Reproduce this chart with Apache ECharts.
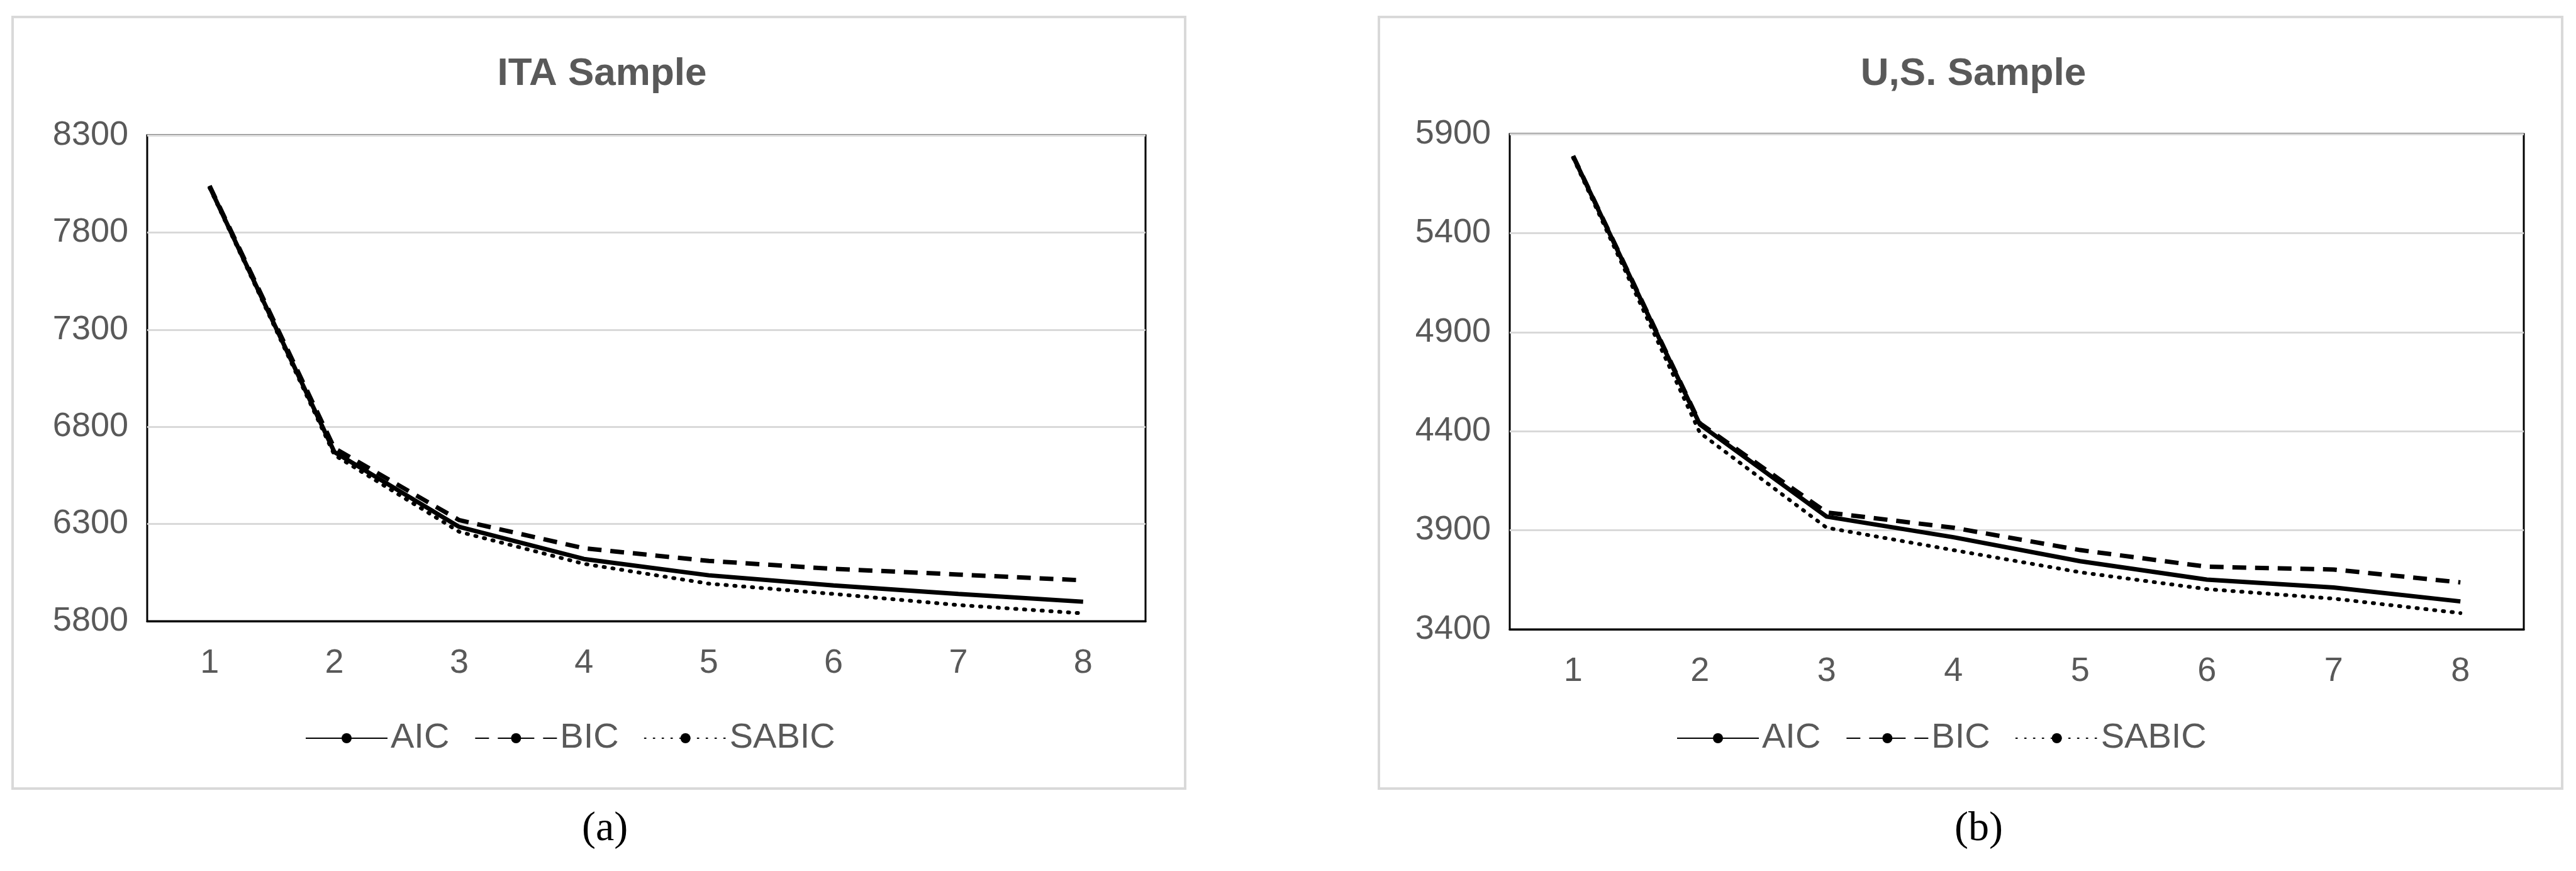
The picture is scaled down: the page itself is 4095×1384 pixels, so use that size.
<!DOCTYPE html>
<html>
<head>
<meta charset="utf-8">
<script src="https://cdn.jsdelivr.net/npm/echarts@6/dist/echarts.min.js"></script>
<style>html,body{margin:0;padding:0;background:#fff}#chart{width:4095px;height:1384px}</style>
</head>
<body>
<div id="chart"></div>
<script>
var categories = ['1', '2', '3', '4', '5', '6', '7', '8'];
var itaAIC = [8035, 6670, 6285, 6120, 6036, 5984, 5940, 5900];
var itaBIC = [8040, 6690, 6320, 6175, 6110, 6069, 6040, 6010];
var itaSABIC = [8030, 6655, 6260, 6095, 5993, 5940, 5883, 5840];
var usAIC = [5787, 4434, 3969, 3865, 3744, 3651, 3611, 3541];
var usBIC = [5790, 4440, 3990, 3913, 3800, 3716, 3702, 3637];
var usSABIC = [5780, 4392, 3913, 3800, 3688, 3603, 3555, 3482];
var seriesNames = ['AIC', 'BIC', 'SABIC'];

var chart = echarts.init(document.getElementById('chart'));
var txt = '#595959';
var font = 'Liberation Sans';

function xAxis(idx) {
  return {
    type: 'category', gridIndex: idx, data: categories, boundaryGap: true,
    axisLine: { lineStyle: { color: '#000', width: 3 } },
    axisTick: { show: false },
    axisLabel: { color: txt, fontSize: 54, fontFamily: font, margin: 40 }
  };
}
function yAxis(idx, min, max) {
  return {
    type: 'value', gridIndex: idx, min: min, max: max, interval: 500,
    axisLine: { show: false }, axisTick: { show: false },
    splitLine: { lineStyle: { color: '#d9d9d9', width: 3 } },
    axisLabel: { color: txt, fontSize: 54, fontFamily: font, margin: 30, formatter: function (v) { return String(v); } }
  };
}
var styles = [
  { type: 'solid', width: 7 },
  { type: [22, 14], width: 7 },
  { type: [2, 12], width: 6, cap: 'round' }
];
function mk(name, data, idx, st) {
  return {
    name: name, type: 'line', xAxisIndex: idx, yAxisIndex: idx, data: data,
    showSymbol: false, symbol: 'none',
    lineStyle: Object.assign({ color: '#000' }, st),
    itemStyle: { color: '#000' }
  };
}
function legend(left) {
  return {
    data: seriesNames, left: left, top: 1140, itemWidth: 130, itemHeight: 20, itemGap: 40,
    textStyle: { color: txt, fontSize: 56, fontFamily: font }
  };
}

chart.setOption({
  animation: false,
  backgroundColor: '#fff',
  title: [
    { text: 'ITA Sample', left: 952, top: 82, textAlign: 'center',
      textStyle: { color: txt, fontSize: 62, fontWeight: 'bold', fontFamily: font } },
    { text: 'U,S. Sample', left: 3132, top: 82, textAlign: 'center',
      textStyle: { color: txt, fontSize: 62, fontWeight: 'bold', fontFamily: font } }
  ],
  graphic: [
    { type: 'rect', shape: { x: 20, y: 27, width: 1864, height: 1226 }, style: { fill: 'none', stroke: '#d9d9d9', lineWidth: 4 } },
    { type: 'rect', shape: { x: 2192, y: 27, width: 1881, height: 1226 }, style: { fill: 'none', stroke: '#d9d9d9', lineWidth: 4 } },
    { type: 'text', left: 925, top: 1285, style: { text: '(a)', fill: '#000', font: '66px "Liberation Serif"' } },
    { type: 'text', left: 3107, top: 1285, style: { text: '(b)', fill: '#000', font: '66px "Liberation Serif"' } }
  ],
  grid: [
    { left: 234, top: 215, width: 1587, height: 772, show: true, borderColor: '#000', borderWidth: 3 },
    { left: 2400, top: 213, width: 1612, height: 787, show: true, borderColor: '#000', borderWidth: 3 }
  ],
  legend: [legend(480), legend(2660)],
  xAxis: [xAxis(0), xAxis(1)],
  yAxis: [yAxis(0, 5800, 8300), yAxis(1, 3400, 5900)],
  series: [
    mk('AIC', itaAIC, 0, styles[0]), mk('BIC', itaBIC, 0, styles[1]), mk('SABIC', itaSABIC, 0, styles[2]),
    mk('AIC', usAIC, 1, styles[0]), mk('BIC', usBIC, 1, styles[1]), mk('SABIC', usSABIC, 1, styles[2])
  ]
});
</script>
</body>
</html>
